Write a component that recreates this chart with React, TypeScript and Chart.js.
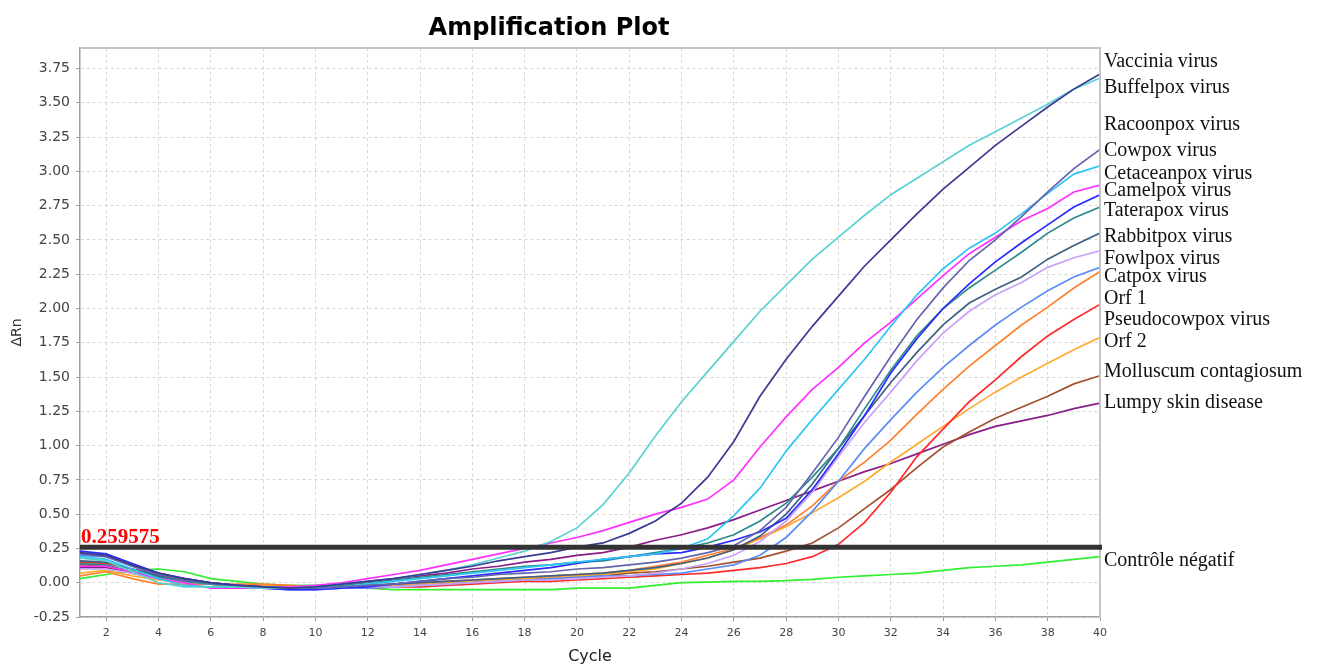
import { useEffect, useRef } from "react";
import { Chart, registerables } from "chart.js";

Chart.register(...registerables);

const cycles = [1, 2, 3, 4, 5, 6, 7, 8, 9, 10, 11, 12, 13, 14, 15, 16, 17, 18, 19, 20, 21, 22, 23, 24, 25, 26, 27, 28, 29, 30, 31, 32, 33, 34, 35, 36, 37, 38, 39, 40];

const xTickValues = [2, 4, 6, 8, 10, 12, 14, 16, 18, 20, 22, 24, 26, 28, 30, 32, 34, 36, 38, 40];
const yTickValues = [-0.25, 0, 0.25, 0.5, 0.75, 1, 1.25, 1.5, 1.75, 2, 2.25, 2.5, 2.75, 3, 3.25, 3.5, 3.75];

const threshold = 0.259575;
const thresholdLabel = "0.259575";

const seriesNames = [
  "Vaccinia virus",
  "Buffelpox virus",
  "Racoonpox virus",
  "Cowpox virus",
  "Cetaceanpox virus",
  "Camelpox virus",
  "Taterapox virus",
  "Rabbitpox virus",
  "Fowlpox virus",
  "Catpox virus",
  "Orf 1",
  "Pseudocowpox virus",
  "Orf 2",
  "Molluscum contagiosum",
  "Lumpy skin disease",
  "Contrôle négatif",
];

const seriesColors = [
  "#3a3a92",
  "#5ad2d0",
  "#6464ae",
  "#2cc6f2",
  "#ff30ff",
  "#2a2aff",
  "#2e8a8a",
  "#3e6082",
  "#c8a2f8",
  "#5c8cf6",
  "#ff8030",
  "#ff2a2a",
  "#ffaa30",
  "#a0522d",
  "#8a1c8a",
  "#30f030",
];

// label anchor values (ΔRn units) for the right-hand names
const labelAnchors = [3.8, 3.61, 3.34, 3.15, 2.98, 2.86, 2.71, 2.52, 2.36, 2.23, 2.07, 1.92, 1.76, 1.54, 1.31, 0.16];

const vaccinia = [0.22, 0.2, 0.13, 0.07, 0.03, 0.0, -0.02, -0.03, -0.04, -0.03, -0.01, 0.01, 0.03, 0.06, 0.09, 0.12, 0.16, 0.19, 0.22, 0.26, 0.29, 0.36, 0.45, 0.58, 0.77, 1.03, 1.36, 1.63, 1.87, 2.09, 2.31, 2.5, 2.69, 2.87, 3.03, 3.19, 3.33, 3.47, 3.6, 3.71];
const buffelpox = [0.18, 0.16, 0.08, 0.0, -0.03, -0.03, -0.03, -0.04, -0.04, -0.03, -0.01, 0.01, 0.03, 0.06, 0.09, 0.13, 0.18, 0.23, 0.3, 0.4, 0.57, 0.8, 1.07, 1.32, 1.54, 1.76, 1.98, 2.17, 2.36, 2.52, 2.68, 2.83, 2.95, 3.07, 3.19, 3.29, 3.39, 3.49, 3.6, 3.68];
const racoonpox = [0.21, 0.19, 0.12, 0.06, 0.02, 0.0, -0.02, -0.03, -0.04, -0.04, -0.03, -0.02, -0.01, 0.01, 0.03, 0.04, 0.06, 0.07, 0.08, 0.1, 0.11, 0.13, 0.15, 0.18, 0.22, 0.27, 0.38, 0.55, 0.8, 1.06, 1.36, 1.65, 1.92, 2.15, 2.35, 2.5, 2.67, 2.85, 3.02, 3.16];
const cowpox = [0.19, 0.17, 0.1, 0.03, -0.02, -0.03, -0.03, -0.04, -0.04, -0.04, -0.03, -0.01, 0.01, 0.03, 0.05, 0.07, 0.09, 0.11, 0.13, 0.15, 0.17, 0.19, 0.21, 0.25, 0.32, 0.49, 0.69, 0.96, 1.19, 1.41, 1.63, 1.87, 2.1, 2.29, 2.44, 2.55, 2.69, 2.84, 2.98, 3.04];
const cetaceanpox = [0.12, 0.12, 0.08, 0.03, 0.0, -0.04, -0.04, -0.04, -0.03, -0.02, 0.0, 0.03, 0.06, 0.09, 0.13, 0.17, 0.21, 0.25, 0.29, 0.33, 0.38, 0.44, 0.5, 0.55, 0.61, 0.75, 0.99, 1.21, 1.41, 1.57, 1.75, 1.9, 2.07, 2.24, 2.4, 2.52, 2.64, 2.73, 2.85, 2.9];
const camelpox = [0.23, 0.21, 0.14, 0.07, 0.03, 0.0, -0.02, -0.04, -0.05, -0.05, -0.04, -0.03, -0.01, 0.01, 0.03, 0.05, 0.07, 0.09, 0.11, 0.14, 0.17, 0.19, 0.21, 0.22, 0.26, 0.31, 0.37, 0.47, 0.68, 0.94, 1.22, 1.53, 1.78, 2.0, 2.18, 2.34, 2.48, 2.61, 2.74, 2.83];
const taterapox = [0.14, 0.13, 0.08, 0.04, 0.01, -0.01, -0.02, -0.03, -0.03, -0.03, -0.02, 0.0, 0.02, 0.04, 0.06, 0.08, 0.1, 0.12, 0.13, 0.15, 0.16, 0.19, 0.22, 0.25, 0.29, 0.35, 0.45, 0.58, 0.77, 0.98, 1.27, 1.55, 1.8, 2.0, 2.15, 2.28, 2.41, 2.55, 2.66, 2.74];
const rabbitpox = [0.16, 0.15, 0.1, 0.05, 0.02, 0.0, -0.02, -0.03, -0.03, -0.03, -0.03, -0.02, -0.01, 0.0, 0.01, 0.02, 0.03, 0.04, 0.05, 0.06, 0.07, 0.09, 0.11, 0.14, 0.18, 0.24, 0.34, 0.5, 0.72, 0.98, 1.22, 1.46, 1.68, 1.88, 2.04, 2.14, 2.23, 2.36, 2.46, 2.55];
const fowlpox = [0.1, 0.1, 0.07, 0.03, 0.01, -0.01, -0.02, -0.03, -0.04, -0.04, -0.04, -0.03, -0.03, -0.02, -0.01, 0.0, 0.01, 0.02, 0.02, 0.03, 0.04, 0.05, 0.07, 0.1, 0.14, 0.2, 0.3, 0.45, 0.66, 0.92, 1.17, 1.39, 1.62, 1.82, 1.98, 2.1, 2.19, 2.3, 2.37, 2.42];
const catpox = [0.2, 0.19, 0.12, 0.05, 0.01, -0.01, -0.03, -0.04, -0.05, -0.05, -0.04, -0.04, -0.03, -0.02, -0.01, 0.0, 0.01, 0.02, 0.03, 0.04, 0.05, 0.05, 0.06, 0.07, 0.1, 0.13, 0.2, 0.33, 0.52, 0.74, 0.98, 1.19, 1.39, 1.57, 1.73, 1.88, 2.01, 2.13, 2.23, 2.3];
const orf1 = [0.05, 0.08, 0.03, -0.01, -0.01, -0.01, -0.01, -0.01, -0.02, -0.03, -0.03, -0.02, -0.01, 0.0, 0.01, 0.02, 0.03, 0.04, 0.05, 0.06, 0.07, 0.09, 0.12, 0.15, 0.2, 0.25, 0.33, 0.42, 0.56, 0.74, 0.88, 1.04, 1.23, 1.41, 1.58, 1.73, 1.88, 2.01, 2.15, 2.27];
const pseudocowpox = [0.15, 0.14, 0.1, 0.06, 0.03, 0.0, -0.02, -0.03, -0.04, -0.04, -0.04, -0.04, -0.03, -0.03, -0.02, -0.01, 0.0, 0.01, 0.01, 0.02, 0.03, 0.04, 0.05, 0.06, 0.07, 0.09, 0.11, 0.14, 0.19, 0.28, 0.44, 0.66, 0.92, 1.12, 1.32, 1.48, 1.65, 1.8, 1.92, 2.03];
const orf2 = [0.07, 0.09, 0.05, 0.02, 0.0, -0.01, -0.02, -0.02, -0.03, -0.03, -0.03, -0.02, -0.02, -0.01, 0.0, 0.01, 0.02, 0.03, 0.04, 0.05, 0.06, 0.08, 0.1, 0.14, 0.18, 0.24, 0.32, 0.41, 0.51, 0.62, 0.74, 0.88, 1.01, 1.14, 1.27, 1.39, 1.5, 1.6, 1.7, 1.79];
const molluscum = [0.13, 0.12, 0.08, 0.04, 0.01, -0.01, -0.02, -0.03, -0.03, -0.04, -0.03, -0.03, -0.02, -0.01, 0.0, 0.01, 0.02, 0.03, 0.03, 0.04, 0.05, 0.07, 0.08, 0.1, 0.12, 0.15, 0.18, 0.23, 0.29, 0.4, 0.54, 0.68, 0.84, 0.99, 1.1, 1.2, 1.28, 1.36, 1.45, 1.51];
const lumpySkin = [0.11, 0.11, 0.07, 0.03, 0.01, -0.01, -0.02, -0.03, -0.03, -0.03, -0.01, 0.01, 0.03, 0.05, 0.07, 0.1, 0.12, 0.15, 0.17, 0.2, 0.22, 0.26, 0.31, 0.35, 0.4, 0.46, 0.53, 0.6, 0.67, 0.74, 0.81, 0.87, 0.94, 1.01, 1.08, 1.14, 1.18, 1.22, 1.27, 1.31];
const negativeControl = [0.03, 0.06, 0.09, 0.1, 0.08, 0.03, 0.01, -0.01, -0.02, -0.02, -0.03, -0.04, -0.05, -0.05, -0.05, -0.05, -0.05, -0.05, -0.05, -0.04, -0.04, -0.04, -0.02, 0.0, 0.005, 0.01, 0.01, 0.015, 0.025, 0.04, 0.05, 0.06, 0.07, 0.09, 0.11, 0.12, 0.13, 0.15, 0.17, 0.19];

const seriesValues = [
  vaccinia,
  buffelpox,
  racoonpox,
  cowpox,
  cetaceanpox,
  camelpox,
  taterapox,
  rabbitpox,
  fowlpox,
  catpox,
  orf1,
  pseudocowpox,
  orf2,
  molluscum,
  lumpySkin,
  negativeControl,
];

const overlayPlugin = {
  id: "overlay",
  afterDatasetsDraw(chart: any) {
    const { ctx, chartArea, scales } = chart;
    const x = scales.x;
    const y = scales.y;
    ctx.save();

    // top and right frame
    ctx.strokeStyle = "#c4c4c4";
    ctx.lineWidth = 2;
    ctx.beginPath();
    ctx.moveTo(chartArea.left, chartArea.top);
    ctx.lineTo(chartArea.right, chartArea.top);
    ctx.lineTo(chartArea.right, chartArea.bottom);
    ctx.stroke();

    // threshold line
    const ty = y.getPixelForValue(threshold);
    ctx.strokeStyle = "#333333";
    ctx.lineWidth = 5;
    ctx.beginPath();
    ctx.moveTo(x.getPixelForValue(1), ty);
    ctx.lineTo(x.getPixelForValue(40) + 2, ty);
    ctx.stroke();

    // threshold label
    ctx.fillStyle = "#ff0000";
    ctx.font = 'bold 21px "Liberation Serif"';
    ctx.textAlign = "left";
    ctx.textBaseline = "alphabetic";
    ctx.fillText(thresholdLabel, chartArea.left + 1, ty - 4);

    // series labels on the right
    ctx.fillStyle = "#111111";
    ctx.font = '20px "Liberation Serif"';
    ctx.textBaseline = "middle";
    seriesNames.forEach((name, i) => {
      ctx.fillText(name, chartArea.right + 4, y.getPixelForValue(labelAnchors[i]));
    });

    ctx.restore();
  },
  afterDraw(chart: any) {
    const { ctx, chartArea } = chart;
    ctx.save();
    ctx.fillStyle = "#000000";
    ctx.font = 'bold 24px "DejaVu Sans"';
    ctx.textAlign = "center";
    ctx.textBaseline = "alphabetic";
    ctx.fillText("Amplification Plot", 549, 35);

    ctx.fillStyle = "#222222";
    ctx.font = '16px "DejaVu Sans"';
    ctx.fillText("Cycle", (chartArea.left + chartArea.right) / 2, 661);

    ctx.translate(17, (chartArea.top + chartArea.bottom) / 2);
    ctx.rotate(-Math.PI / 2);
    ctx.fillStyle = "#333333";
    ctx.font = '14px "DejaVu Sans"';
    ctx.textBaseline = "middle";
    ctx.fillText("ΔRn", 0, 0);
    ctx.restore();
  },
};

export default function App() {
  const canvasRef = useRef<HTMLCanvasElement>(null);

  useEffect(() => {
    const canvas = canvasRef.current;
    if (!canvas) return;
    const chart = new Chart(canvas, {
      type: "line",
      data: {
        datasets: seriesNames.map((name, i) => ({
          label: name,
          data: cycles.map((c, k) => ({ x: c, y: seriesValues[i][k] })),
          borderColor: seriesColors[i],
          backgroundColor: seriesColors[i],
          borderWidth: 1.7,
          pointRadius: 0,
          tension: 0,
          fill: false,
        })),
      },
      options: {
        animation: false,
        responsive: false,
        maintainAspectRatio: false,
        devicePixelRatio: 1,
        layout: { padding: { top: 48, right: 223, left: 0, bottom: 0 } },
        plugins: {
          legend: { display: false },
          tooltip: { enabled: false },
          title: { display: false },
        },
        scales: {
          x: {
            type: "linear",
            min: 1,
            max: 40,
            afterBuildTicks: (s: any) => {
              s.ticks = xTickValues.map((v) => ({ value: v }));
            },
            afterFit: (s: any) => {
              s.height = 47;
            },
            ticks: {
              autoSkip: false,
              maxRotation: 0,
              padding: 6,
              color: "#444444",
              font: { family: "DejaVu Sans", size: 11 },
              callback: (v: any) => String(v),
            },
            grid: {
              color: "#d6d6d6",
              lineWidth: 1,
              tickLength: 4,
              tickColor: "#9a9a9a",
              tickBorderDash: [],
            },
            border: { color: "#a0a0a0", width: 1.5, dash: [3, 3] },
          },
          y: {
            type: "linear",
            min: -0.25,
            max: 3.9,
            afterBuildTicks: (s: any) => {
              s.ticks = yTickValues.map((v) => ({ value: v }));
            },
            afterFit: (s: any) => {
              s.width = 80;
            },
            ticks: {
              padding: 6,
              color: "#444444",
              font: { family: "DejaVu Sans", size: 14 },
              callback: (v: any) => Number(v).toFixed(2),
            },
            grid: {
              color: "#d6d6d6",
              lineWidth: 1,
              tickLength: 4,
              tickColor: "#9a9a9a",
              tickBorderDash: [],
            },
            border: { color: "#a0a0a0", width: 1.5, dash: [3, 3] },
          },
        },
      },
      plugins: [overlayPlugin],
    });
    return () => chart.destroy();
  }, []);

  return (
    <div style={{ position: "fixed", left: 0, top: 0, width: 1323, height: 664, background: "#ffffff" }}>
      <canvas ref={canvasRef} width={1323} height={664} style={{ display: "block", width: 1323, height: 664 }} />
    </div>
  );
}
